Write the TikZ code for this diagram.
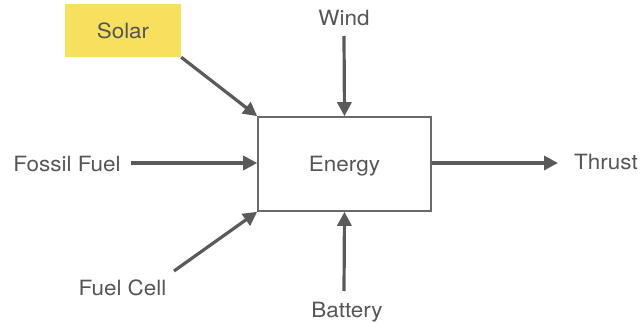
\documentclass[tikz,border=0pt]{standalone}
\usepackage{fontspec}
\setmainfont[FakeStretch=1.07]{TeX Gyre Heros}
\usetikzlibrary{arrows.meta}
\definecolor{txtgrey}{RGB}{85,85,85}
\definecolor{linegrey}{RGB}{90,90,90}
\definecolor{boxgrey}{RGB}{105,105,105}
\definecolor{solaryellow}{RGB}{246,224,94}
\tikzset{
  lbl/.style={text=txtgrey, inner sep=0pt, anchor=base, font=\fontsize{21}{25}\selectfont},
  flow/.style={draw=linegrey, line width=3.2pt, -{Triangle[length=14pt,width=14pt]}},
}
\begin{document}
\begin{tikzpicture}[x=1pt,y=-1pt]
\useasboundingbox (0,0) rectangle (643,323);
\node[draw=boxgrey, line width=1.6pt, minimum width=173pt, minimum height=94pt, inner sep=0pt] (energy) at (344.5,164) {};
\node[lbl] (energytxt) at (344.5,172) {Energy};
\node[fill=solaryellow, minimum width=116pt, minimum height=53pt, inner sep=0pt] (solar) at (123,30.5) {};
\node[lbl] (solartxt) at (123,39) {Solar};
\node[lbl] (wind) at (344,26) {Wind};
\node[lbl] (fossil) at (67,171.5) {Fossil Fuel};
\node[lbl] (thrust) at (606,169.5) {Thrust};
\node[lbl] (fuelcell) at (122.5,295) {Fuel Cell};
\node[lbl] (battery) at (347,317) {Battery};
\coordinate (windend) at (344,36);
\coordinate (fossilend) at (131,163);
\coordinate (thrustend) at (558,163);
\coordinate (fcend) at (174,271);
\coordinate (batend) at (344,291);
\draw[flow] (solar.south east) -- (energy.north west);
\draw[flow] (windend) -- (energy.north);
\draw[flow] (fossilend) -- (energy.west |- fossilend);
\draw[flow] (energy.east |- thrustend) -- (thrustend);
\draw[flow] (fcend) -- (energy.south west);
\draw[flow] (batend) -- (energy.south);
\end{tikzpicture}
\end{document}
